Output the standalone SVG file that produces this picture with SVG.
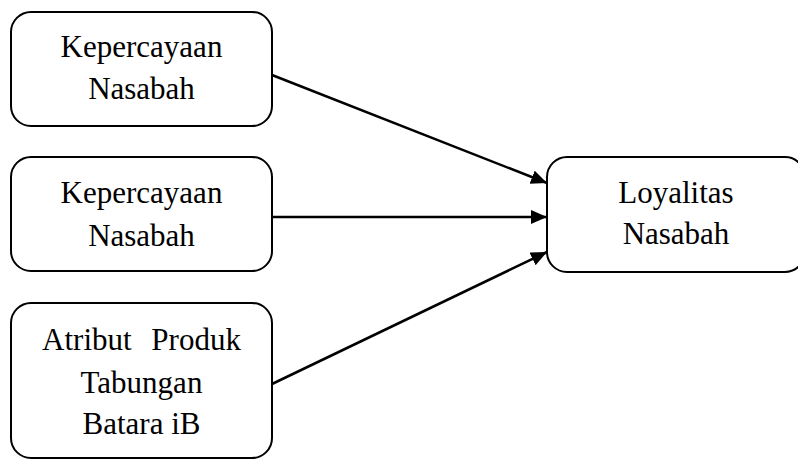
<svg xmlns="http://www.w3.org/2000/svg" width="798" height="460" viewBox="0 0 798 460">
  <style>
    .box { fill: #ffffff; stroke: #000000; stroke-width: 2; }
    .lbl { font-family: "Liberation Serif", "Times New Roman", serif; font-size: 31px; fill: #000000; text-anchor: middle; }
    .edge { stroke: #000000; stroke-width: 2.5; fill: none; marker-end: url(#arrow); }
  </style>
  <defs>
    <marker id="arrow" markerUnits="userSpaceOnUse" markerWidth="18" markerHeight="16" refX="16" refY="7" orient="auto">
      <path d="M0,0 L16,7 L0,14 Z" fill="#000000"/>
    </marker>
  </defs>
  <rect width="798" height="460" fill="#ffffff"/>

  <g id="node-kepercayaan-1">
    <rect class="box" x="11" y="12" width="261" height="114" rx="20" ry="20"/>
    <text class="lbl" x="141.5" y="57">Kepercayaan</text>
    <text class="lbl" x="141.5" y="99">Nasabah</text>
  </g>

  <g id="node-kepercayaan-2">
    <rect class="box" x="11" y="157" width="261" height="114" rx="20" ry="20"/>
    <text class="lbl" x="141.5" y="203">Kepercayaan</text>
    <text class="lbl" x="141.5" y="246">Nasabah</text>
  </g>

  <g id="node-atribut">
    <rect class="box" x="11" y="303" width="261" height="155" rx="20" ry="20"/>
    <text class="lbl" x="141.5" y="350" word-spacing="12">Atribut Produk</text>
    <text class="lbl" x="141.5" y="393">Tabungan</text>
    <text class="lbl" x="141.5" y="434">Batara iB</text>
  </g>

  <g id="node-loyalitas">
    <rect class="box" x="547" y="157" width="258" height="115" rx="20" ry="20"/>
    <text class="lbl" x="676" y="203">Loyalitas</text>
    <text class="lbl" x="676" y="244">Nasabah</text>
  </g>

  <g id="connectors">
    <line class="edge" x1="272" y1="75" x2="547" y2="183"/>
    <line class="edge" x1="272" y1="217" x2="547" y2="217"/>
    <line class="edge" x1="272" y1="384" x2="547" y2="252"/>
  </g>
</svg>
